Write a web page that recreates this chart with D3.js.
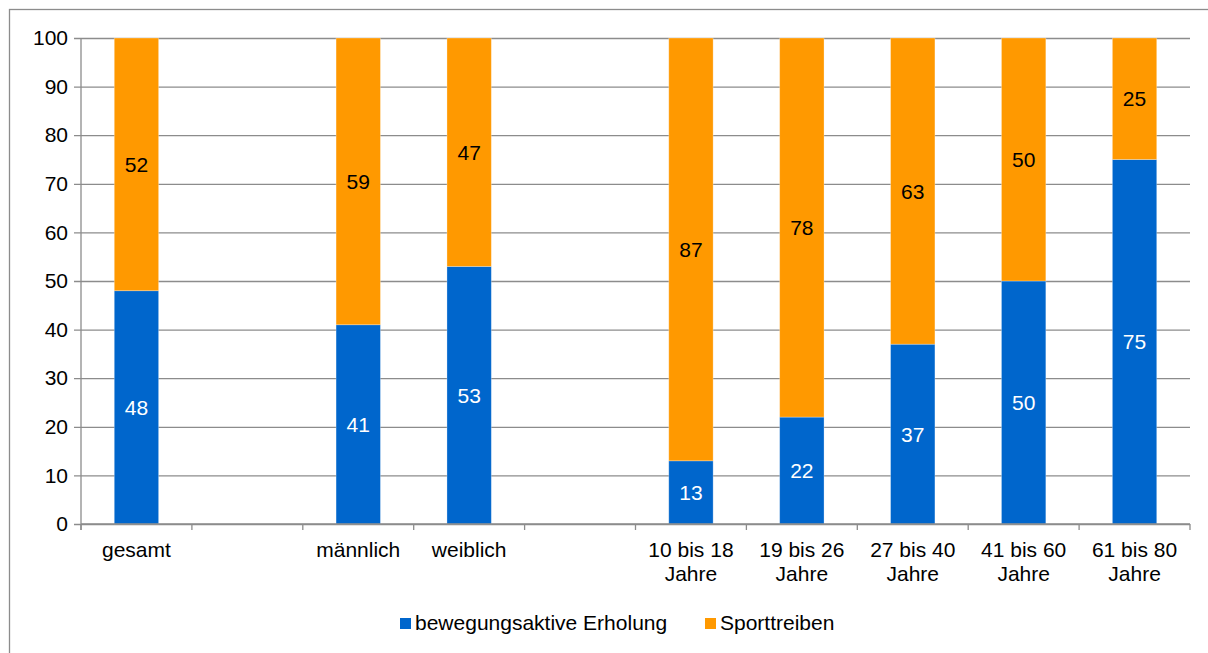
<!DOCTYPE html>
<html>
<head>
<meta charset="utf-8">
<script src="https://cdn.jsdelivr.net/npm/d3@7"></script>
<style>
    body { margin: 0; background: #fff; }
    #my_dataviz { width: 1208px; height: 653px; }
    text { font-family: "Liberation Sans", Arial, sans-serif; }
</style>
</head>
<body>
<div id="my_dataviz"></div>
<script>
// categories ("" = empty slot in the original chart)
const categories = ["gesamt", "gap1", "männlich", "weiblich", "gap2",
    "10 bis 18 Jahre", "19 bis 26 Jahre", "27 bis 40 Jahre", "41 bis 60 Jahre", "61 bis 80 Jahre"];
const categoryLines = [["gesamt"], [], ["männlich"], ["weiblich"], [],
    ["10 bis 18", "Jahre"], ["19 bis 26", "Jahre"], ["27 bis 40", "Jahre"], ["41 bis 60", "Jahre"], ["61 bis 80", "Jahre"]];
const erholung = [48, null, 41, 53, null, 13, 22, 37, 50, 75];
const sport = [52, null, 59, 47, null, 87, 78, 63, 50, 25];
const seriesNames = ["bewegungsaktive Erholung", "Sporttreiben"];
const seriesColors = ["#0066cc", "#ff9900"];
const labelColors = ["#ffffff", "#000000"];
const yTicks = [0, 10, 20, 30, 40, 50, 60, 70, 80, 90, 100];

const W = 1208, H = 653;
const margin = { top: 38, right: 18, bottom: 129, left: 81 };
const width = W - margin.left - margin.right;
const height = H - margin.top - margin.bottom;

const svg = d3.select("#my_dataviz").append("svg")
    .attr("width", W)
    .attr("height", H);

// outer frame
svg.append("rect")
    .attr("x", 9.5).attr("y", 9.5)
    .attr("width", W + 20).attr("height", H + 20)
    .attr("fill", "none")
    .attr("stroke", "#8c8c8c")
    .attr("stroke-width", 1.3);

const g = svg.append("g")
    .attr("transform", `translate(${margin.left},${margin.top})`);

const x = d3.scaleBand().domain(categories).range([0, width]).paddingInner(0.6).paddingOuter(0.3);
const y = d3.scaleLinear().domain([0, 100]).range([height, 0]);

// gridlines + y axis
g.append("g")
    .call(d3.axisLeft(y).tickValues(yTicks).tickSize(-width).tickSizeOuter(0).tickPadding(13))
    .call(a => a.select(".domain").remove())
    .call(a => a.selectAll("line").attr("stroke", "#8c8c8c").attr("stroke-width", 1.3).attr("x1", -7))
    .call(a => a.selectAll("text").attr("font-size", 21).attr("fill", "#000").style("font-family", "Liberation Sans, Arial"));

g.append("line")
    .attr("x1", 0).attr("x2", 0).attr("y1", 0).attr("y2", height + 6)
    .attr("stroke", "#8c8c8c").attr("stroke-width", 1.3);

// stacked data
const rows = categories.map((c, i) => ({ cat: c, vals: [erholung[i], sport[i]] }));
const stack = d3.stack().keys([0, 1]).value((d, k) => d.vals[k] || 0)(rows);

stack.forEach((layer, k) => {
    const lg = g.append("g");
    layer.forEach((seg, i) => {
        if (rows[i].vals[k] == null) return;
        lg.append("rect")
            .attr("x", x(rows[i].cat))
            .attr("width", x.bandwidth())
            .attr("y", y(seg[1]))
            .attr("height", y(seg[0]) - y(seg[1]))
            .attr("fill", seriesColors[k])
            .attr("stroke", "#ffffff")
            .attr("stroke-opacity", 0.35)
            .attr("stroke-width", 0.8);
        lg.append("text")
            .attr("x", x(rows[i].cat) + x.bandwidth() / 2)
            .attr("y", y((seg[0] + seg[1]) / 2))
            .attr("dy", "0.36em")
            .attr("text-anchor", "middle")
            .attr("font-size", 21)
            .attr("fill", labelColors[k])
            .text(rows[i].vals[k]);
    });
});

// x axis
const step = x.step();
const xAxis = g.append("g").attr("transform", `translate(0,${height})`);
xAxis.append("line")
    .attr("x1", 0).attr("x2", width)
    .attr("stroke", "#8c8c8c").attr("stroke-width", 1.3);
d3.range(categories.length + 1).forEach(i => {
    xAxis.append("line")
        .attr("x1", i * width / categories.length).attr("x2", i * width / categories.length)
        .attr("y1", 0).attr("y2", 6)
        .attr("stroke", "#8c8c8c").attr("stroke-width", 1.3);
});
categories.forEach((c, i) => {
    const t = xAxis.append("text")
        .attr("x", x(c) + x.bandwidth() / 2)
        .attr("y", 33)
        .attr("text-anchor", "middle")
        .attr("font-size", 21)
        .attr("fill", "#000");
    categoryLines[i].forEach((ln, j) => {
        t.append("tspan").attr("x", x(c) + x.bandwidth() / 2).attr("dy", j === 0 ? 0 : 24).text(ln);
    });
});

// legend
const legendX = [400, 705];
const legend = svg.append("g");
seriesNames.forEach((name, k) => {
    legend.append("rect")
        .attr("x", legendX[k]).attr("y", 618)
        .attr("width", 11).attr("height", 11)
        .attr("fill", seriesColors[k]);
    legend.append("text")
        .attr("x", legendX[k] + 15).attr("y", 630)
        .attr("font-size", 21)
        .attr("fill", "#000")
        .text(name);
});
</script>
</body>
</html>
